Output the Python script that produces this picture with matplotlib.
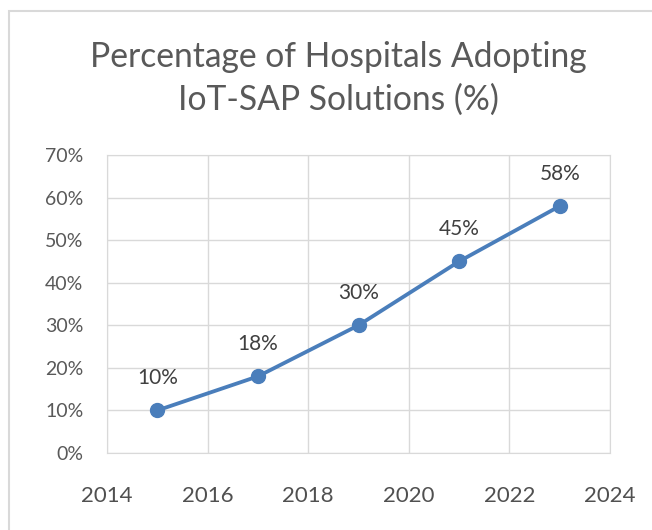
import matplotlib.pyplot as plt
from matplotlib.patches import Rectangle
from matplotlib.ticker import FuncFormatter

years = [2015, 2017, 2019, 2021, 2023]
adoption = [10, 18, 30, 45, 58]
labels = ["10%", "18%", "30%", "45%", "58%"]
title_lines = ["Percentage of Hospitals Adopting", "IoT-SAP Solutions (%)"]

plt.rcParams['font.family'] = ['Lato', 'DejaVu Sans']

W, H = 652, 530
fig = plt.figure(figsize=(W / 100, H / 100), dpi=100)
# light chart-area border (top and left visible, rest runs off the image)
fig.patches.append(Rectangle((8.5 / W, -0.1), 1.2, 1 - 10.5 / H + 0.1,
                             transform=fig.transFigure, fill=False,
                             edgecolor='#d9d9d9', linewidth=1.5))

ax = fig.add_axes([107 / W, 1 - 453 / H, 503 / W, 298 / H])
line_color = '#4a7ebb'
ax.plot(years, adoption, color=line_color, linewidth=2.75, marker='o',
        markersize=10, zorder=3)
for x, y, t in zip(years, adoption, labels):
    ax.annotate(t, (x, y), xytext=(0, 23), textcoords='offset points',
                ha='center', va='center', fontsize=15, color='#404040')

ax.set_xlim(2014, 2024)
ax.set_ylim(0, 70)
ax.set_xticks(range(2014, 2025, 2))
ax.set_yticks(range(0, 71, 10))
ax.yaxis.set_major_formatter(FuncFormatter(lambda v, p: f"{int(v)}%"))
ax.grid(True, color='#d9d9d9', linewidth=1)
ax.set_axisbelow(True)
for s in ax.spines.values():
    s.set_color('#d9d9d9')
ax.tick_params(length=0, labelcolor='#595959')
ax.tick_params(axis='x', pad=24, labelsize=16, labelcolor='#505050')
ax.tick_params(axis='y', pad=17, labelsize=14)

tx = 338 / W
fig.text(tx, 1 - 67 / H, title_lines[0], ha='center', va='baseline',
         fontsize=24.2, color='#595959')
fig.text(tx, 1 - 110 / H, title_lines[1], ha='center', va='baseline',
         fontsize=24.2, color='#595959')

fig.savefig("out.png", dpi=100)
